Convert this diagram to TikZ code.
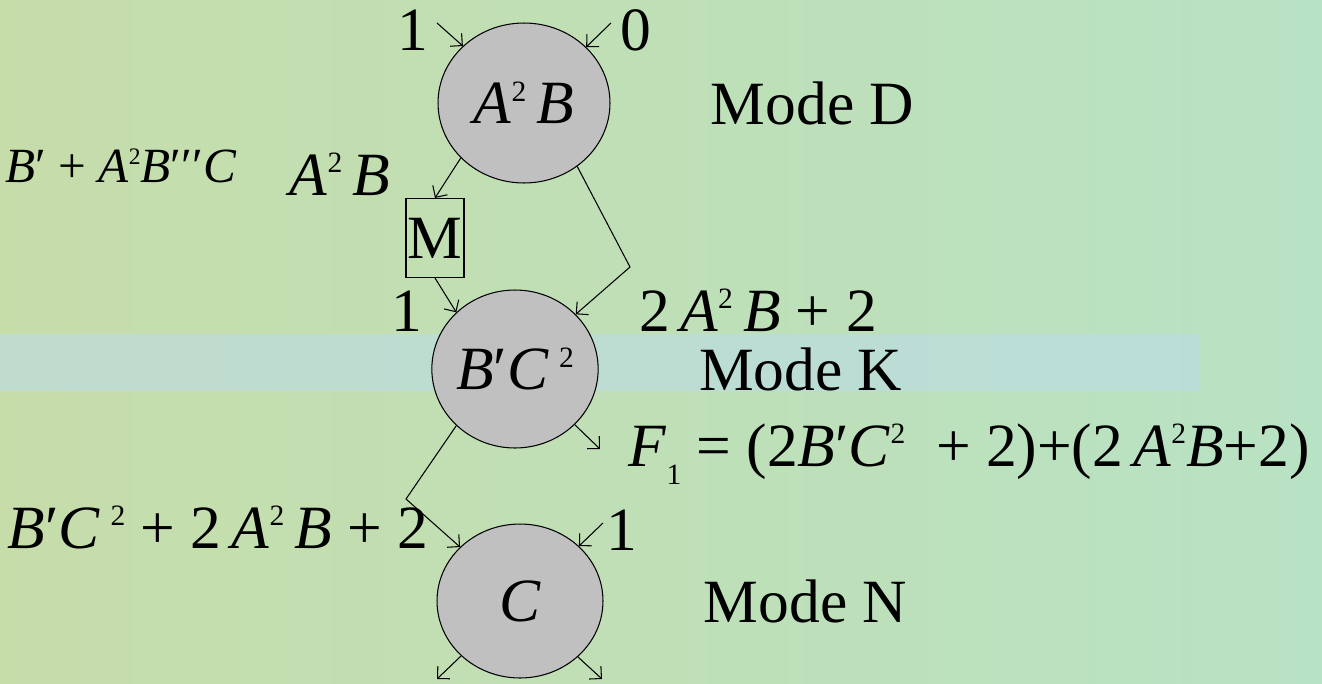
\documentclass[tikz,border=0pt]{standalone}
\usepackage{fontspec}
\setmainfont{Liberation Serif}[ItalicFont={Liberation Serif Italic}]
\usetikzlibrary{positioning,shapes.geometric,arrows.meta}
\definecolor{SlideLeaf}{HTML}{C6DDAA}
\definecolor{SlideMint}{HTML}{B8E2C4}
\definecolor{SlideBand}{HTML}{BCDCE6}
\definecolor{NodeGray}{HTML}{C0C0C0}
\newcommand{\mv}[1]{\textit{#1}}
\newcommand{\sq}{\raisebox{0.36em}{\scalebox{0.48}{2}}}

\begin{document}
\begin{tikzpicture}[x=0.02cm,y=-0.02cm,
    node distance=2cm,
    mode/.style={ellipse, draw=black, line width=0.6pt, fill=NodeGray,
      inner sep=0pt, font=\fontsize{35}{40}\selectfont},
    lbl/.style={font=\fontsize{35}{40}\selectfont, inner sep=0pt, anchor=base},
    small/.style={font=\fontsize{28}{32}\selectfont, inner sep=0pt, anchor=base},
    link/.style={-{Straight Barb[angle=90:7pt]}, line width=0.6pt, black},
    wire/.style={line width=0.6pt, black}
  ]
  \useasboundingbox[left color=SlideLeaf, right color=SlideMint]
    (0,0) rectangle (1322,683);
  \fill[SlideBand, opacity=0.6] (0,334) rectangle (1200,391);

  \node[mode, minimum width=3.44cm, minimum height=3.2cm] (ab) at (524,103)
    {\mv{A}\sq\,\mv{B}};
  \node[mode, minimum width=3.32cm, minimum height=3.16cm] (bc) at (515,369)
    {\mv{B}′\mv{C}\,\sq};
  \node[mode, minimum width=3.32cm, minimum height=3.08cm] (c) at (520,601)
    {\mv{C}};
  \node[draw, line width=0.6pt, inner sep=0pt, minimum width=1.16cm,
    minimum height=1.58cm, font=\fontsize{35}{40}\selectfont] (m) at (435,238) {M};

  \node[lbl, anchor=west, right=of ab] (md) {Mode D};
  \node[lbl, anchor=west, right=of bc] (mk) {Mode K};
  \node[lbl, anchor=west, right=of c]  (mn) {Mode N};

  \node[lbl] (w1) at (413,50) {1};
  \node[lbl] (w0) at (636,50) {0};
  \node[lbl] (wab) at (340,195) {\mv{A}\sq\,\mv{B}};
  \node[small] (wsum) at (121,182) {\mv{B}′ + \mv{A}\sq\mv{B}′′′\mv{C}};
  \node[lbl] (wm) at (407,331) {1};
  \node[lbl] (wk) at (758,331) {2\,\mv{A}\sq\,\mv{B} + 2};
  \node[lbl] (wf) at (969,466)
    {\mv{F}\raisebox{-0.3em}{\scalebox{0.48}{1}} = (2\mv{B}′\mv{C}\sq\ \ + 2)+(2\,\mv{A}\sq\mv{B}+2)};
  \node[lbl] (wn) at (218,548) {\mv{B}′\mv{C}\,\sq\ + 2\,\mv{A}\sq\,\mv{B} + 2};
  \node[lbl] (wc) at (622,550) {1};

  \coordinate (i1) at (437,23);
  \coordinate (i0) at (611,23);
  \coordinate (kb) at (630,267);
  \coordinate (nb) at (406,499);
  \coordinate (fo) at (600,449);
  \coordinate (ic) at (603,523);
  \coordinate (o1) at (437,679);
  \coordinate (o2) at (602,679);

  \draw[link] (i1) -- (ab.137);
  \draw[link] (i0) -- (ab.42);
  \draw[link] (ab.221) -- (m.north);
  \draw[link] (m.south) -- (bc.136);
  \draw[link] (ab.-50) -- (kb) -- (bc.42);
  \draw[link] (bc.224) -- (nb) -- (c.138);
  \draw[link] (bc.-43) -- (fo);
  \draw[link] (ic) -- (c.43);
  \draw[link] (c.223) -- (o1);
  \draw[link] (c.-44) -- (o2);
\end{tikzpicture}
\end{document}
